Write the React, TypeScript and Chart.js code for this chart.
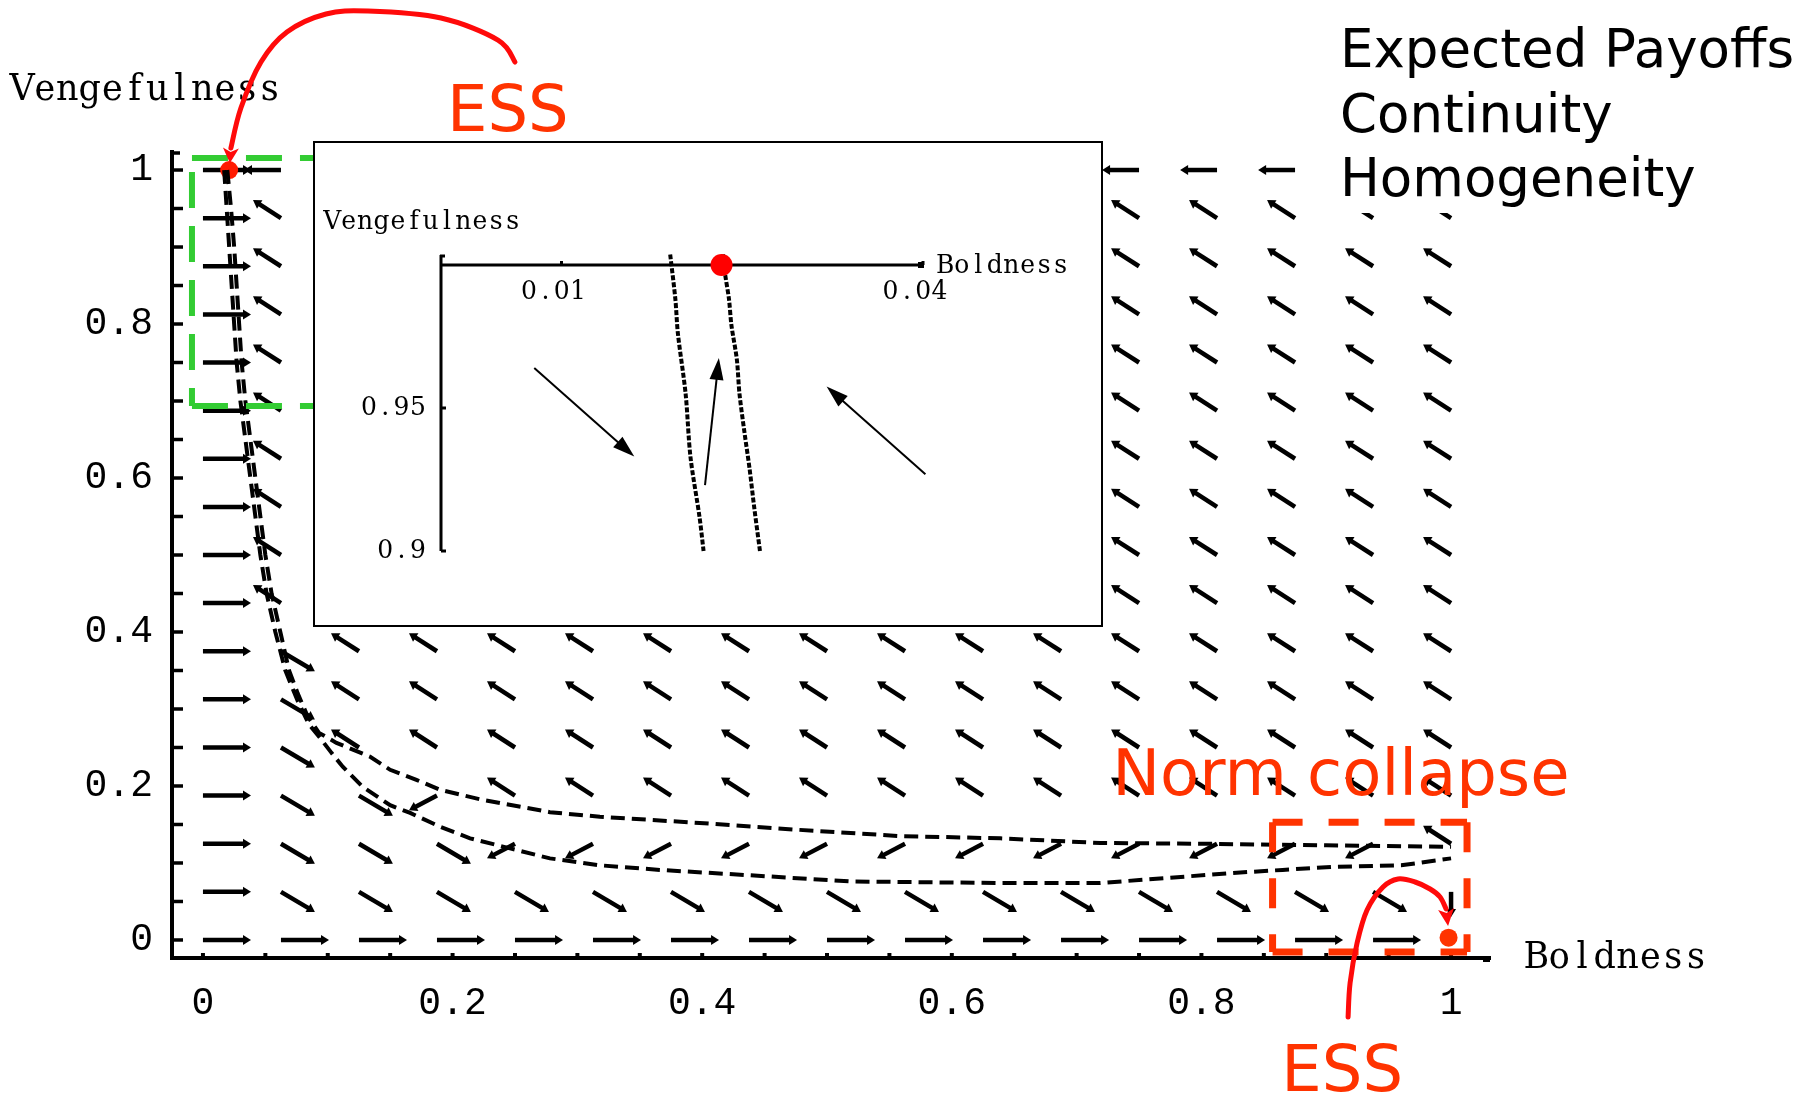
import React, { useEffect, useRef } from 'react';
import { Chart, registerables } from 'chart.js';

Chart.register(...registerables);

// ---------------- main phase portrait data ----------------
const GRID_B = [0, 0.0625, 0.125, 0.1875, 0.25, 0.3125, 0.375, 0.4375, 0.5, 0.5625, 0.625, 0.6875, 0.75, 0.8125, 0.875, 0.9375, 1];
// rows listed from Vengefulness = 1 down to 0
const GRID_V = [1, 0.9375, 0.875, 0.8125, 0.75, 0.6875, 0.625, 0.5625, 0.5, 0.4375, 0.375, 0.3125, 0.25, 0.1875, 0.125, 0.0625, 0];
// direction of the field arrow at each grid point
const FIELD_ROWS = [
  'RLLLLLLLLLLLLLLLL',
  'RAAAAAAAAAAAAAAAA',
  'RAAAAAAAAAAAAAAAA',
  'RAAAAAAAAAAAAAAAA',
  'RAAAAAAAAAAAAAAAA',
  'RAAAAAAAAAAAAAAAA',
  'RAAAAAAAAAAAAAAAA',
  'RAAAAAAAAAAAAAAAA',
  'RAAAAAAAAAAAAAAAA',
  'RAAAAAAAAAAAAAAAA',
  'RBAAAAAAAAAAAAAAA',
  'RBAAAAAAAAAAAAAAA',
  'RBAAAAAAAAAAAAAAA',
  'RBBCAAAAAAAAAAAAA',
  'RBBBCCCCCCCCCCCCA',
  'RBBBBBBBBBBBBBBBD',
  'RRRRRRRRRRRRRRRR.',
];
const DIR_CODES = ['R', 'L', 'A', 'B', 'C', 'D', '.'];
const DIR_U = [0.0385, -0.0296, -0.0224, 0.0272, -0.0224, 0, 0];
const DIR_V = [0, 0, 0.0234, -0.026, -0.019, -0.0325, 0];

const UPPER_B = [0.0195, 0.0225, 0.025, 0.027, 0.029, 0.031, 0.034, 0.038, 0.042, 0.046, 0.05, 0.055, 0.062, 0.069, 0.076, 0.084, 0.093, 0.107, 0.134, 0.15, 0.171, 0.19, 0.224, 0.278, 0.318, 0.398, 0.478, 0.558, 0.639, 0.719, 0.8, 0.9, 1.0];
const UPPER_V = [1.0, 0.95, 0.9, 0.85, 0.8, 0.75, 0.7, 0.65, 0.6, 0.55, 0.5, 0.45, 0.4, 0.35, 0.32, 0.29, 0.269, 0.256, 0.238, 0.221, 0.208, 0.195, 0.182, 0.166, 0.16, 0.152, 0.143, 0.135, 0.132, 0.126, 0.125, 0.123, 0.121];
const LOWER_B = [0.017, 0.019, 0.021, 0.023, 0.025, 0.027, 0.03, 0.034, 0.038, 0.042, 0.046, 0.051, 0.058, 0.066, 0.076, 0.085, 0.095, 0.103, 0.112, 0.128, 0.15, 0.166, 0.19, 0.214, 0.246, 0.278, 0.318, 0.366, 0.439, 0.519, 0.639, 0.719, 0.825, 0.865, 0.905, 0.96, 1.0];
const LOWER_V = [1.0, 0.95, 0.9, 0.85, 0.8, 0.75, 0.7, 0.65, 0.6, 0.55, 0.5, 0.45, 0.4, 0.35, 0.31, 0.28, 0.26, 0.243, 0.225, 0.199, 0.175, 0.165, 0.147, 0.132, 0.119, 0.106, 0.097, 0.091, 0.084, 0.076, 0.074, 0.074, 0.087, 0.091, 0.095, 0.097, 0.106];

const ESS_B = [0.021, 0.998];
const ESS_V = [1.0, 0.003];
const ESS_COLORS = ['#ff1a00', '#ff3300'];

const TICK_VALUES = [0, 0.05, 0.1, 0.15, 0.2, 0.25, 0.3, 0.35, 0.4, 0.45, 0.5, 0.55, 0.6, 0.65, 0.7, 0.75, 0.8, 0.85, 0.9, 0.95, 1];
const MAJOR_TICKS = [0, 0.2, 0.4, 0.6, 0.8, 1];
const MAJOR_LABELS = ['0', '0.2', '0.4', '0.6', '0.8', '1'];
const B_RANGE = [-0.0248, 1.0312];
const V_RANGE = [-0.0234, 1.0234];

// annotations (data coordinates of the main plot)
const GREEN_BOX = { b0: -0.0088, b1: 0.1, v0: 0.6935, v1: 1.0156 };
const NORM_BOX = { b0: 0.857, b1: 1.0128, v0: -0.0156, v1: 0.153 };
const TOP_ARROW_B = [0.25, 0.2364, 0.1907, 0.1322, 0.0986, 0.0673, 0.0465, 0.0304, 0.0224, 0.0216];
const TOP_ARROW_V = [1.1403, 1.1688, 1.1974, 1.2065, 1.2026, 1.1792, 1.1403, 1.0805, 1.0286, 1.0091];
const BOTTOM_ARROW_B = [0.9175, 0.9191, 0.9247, 0.9327, 0.9455, 0.9575, 0.9712, 0.9832, 0.9912, 0.996, 0.9976];
const BOTTOM_ARROW_V = [-0.1, -0.0558, -0.0039, 0.039, 0.0688, 0.0792, 0.0753, 0.0662, 0.0558, 0.0403, 0.0182];
const RED_LABELS = ['ESS', 'Norm collapse', 'ESS'];
const RED_LABEL_B = [0.1955, 0.7285, 0.864];
const RED_LABEL_V = [1.0505, 0.188, -0.1961];
const LEGEND_LINES = ['Expected Payoffs', 'Continuity', 'Homogeneity'];

// ---------------- inset data ----------------
const INSET_LEFT_B = [0.01902, 0.01945, 0.01966, 0.0203, 0.0207, 0.02145, 0.02179];
const INSET_LEFT_V = [1.0037, 0.988, 0.976, 0.955, 0.933, 0.912, 0.9];
const INSET_RIGHT_B = [0.0234, 0.02357, 0.0239, 0.0241, 0.02455, 0.02477, 0.0252, 0.0256, 0.026, 0.02647];
const INSET_RIGHT_V = [1.0037, 0.997, 0.988, 0.979, 0.967, 0.955, 0.941, 0.929, 0.915, 0.9];
const INSET_ESS_B = [0.02328];
const INSET_ESS_V = [1.0];
const INSET_ARROW_FROM_B = [0.00774, 0.02191, 0.0402];
const INSET_ARROW_FROM_V = [0.964, 0.923, 0.9268];
const INSET_ARROW_TO_B = [0.01604, 0.02306, 0.032];
const INSET_ARROW_TO_V = [0.933, 0.9675, 0.9575];
const INSET_B_TICKS = [0.01, 0.04];
const INSET_B_LABELS = ['0.01', '0.04'];
const INSET_V_TICKS = [0.95, 0.9];
const INSET_V_LABELS = ['0.95', '0.9'];

const MONO = '"Liberation Mono", "Courier New", monospace';
const SERIF = '"DejaVu Serif", "Liberation Serif", serif';
const SANS = '"DejaVu Sans", Verdana, sans-serif';

function drawArrow(ctx: CanvasRenderingContext2D, x0: number, y0: number, x1: number, y1: number, lw: number, headLen: number, headHalf: number, color: string) {
  const dx = x1 - x0, dy = y1 - y0;
  const len = Math.hypot(dx, dy);
  if (len < 0.5) return;
  const ux = dx / len, uy = dy / len;
  const hl = Math.min(headLen, len * 0.6);
  const bx = x1 - ux * hl, by = y1 - uy * hl;
  ctx.strokeStyle = color;
  ctx.fillStyle = color;
  ctx.lineWidth = lw;
  ctx.lineCap = 'butt';
  ctx.setLineDash([]);
  ctx.beginPath();
  ctx.moveTo(x0, y0);
  ctx.lineTo(bx + ux * 1, by + uy * 1);
  ctx.stroke();
  ctx.beginPath();
  ctx.moveTo(x1, y1);
  ctx.lineTo(bx - uy * headHalf, by + ux * headHalf);
  ctx.lineTo(bx + uy * headHalf, by - ux * headHalf);
  ctx.closePath();
  ctx.fill();
}

function smoothPath(ctx: CanvasRenderingContext2D, pts: number[][]) {
  ctx.moveTo(pts[0][0], pts[0][1]);
  for (let i = 0; i < pts.length - 1; i++) {
    const p0 = pts[i - 1] || pts[i];
    const p1 = pts[i];
    const p2 = pts[i + 1];
    const p3 = pts[i + 2] || p2;
    ctx.bezierCurveTo(
      p1[0] + (p2[0] - p0[0]) / 6, p1[1] + (p2[1] - p0[1]) / 6,
      p2[0] - (p3[0] - p1[0]) / 6, p2[1] - (p3[1] - p1[1]) / 6,
      p2[0], p2[1]
    );
  }
}

// typewriter-style text: serif glyphs placed in fixed-width cells
function cellText(ctx: CanvasRenderingContext2D, text: string, x: number, y: number, cell: number, size: number, align: 'left' | 'right' | 'center', sy = 1.05) {
  const total = cell * text.length;
  let start = x;
  if (align === 'right') start = x - total;
  if (align === 'center') start = x - total / 2;
  ctx.save();
  ctx.translate(0, y);
  ctx.scale(1, sy);
  ctx.font = `${size}px ${SERIF}`;
  ctx.textAlign = 'center';
  ctx.textBaseline = 'middle';
  ctx.fillStyle = '#000';
  for (let i = 0; i < text.length; i++) {
    ctx.fillText(text[i], start + cell * (i + 0.5), 0);
  }
  ctx.restore();
}

function line(ctx: CanvasRenderingContext2D, x0: number, y0: number, x1: number, y1: number) {
  ctx.beginPath();
  ctx.moveTo(x0, y0);
  ctx.lineTo(x1, y1);
  ctx.stroke();
}

const whiteBg = {
  id: 'whiteBg',
  beforeDraw(chart: any) {
    const { ctx, width, height } = chart;
    ctx.save();
    ctx.fillStyle = '#fff';
    ctx.fillRect(0, 0, width, height);
    ctx.restore();
  },
};

const fieldPlugin = {
  id: 'field',
  beforeDatasetsDraw(chart: any) {
    const ds = chart.data.datasets.find((d: any) => d.label === 'Direction field');
    const xs = chart.scales.x, ys = chart.scales.y;
    const ctx: CanvasRenderingContext2D = chart.ctx;
    ctx.save();
    ds.data.forEach((p: any) => {
      if (p.u === 0 && p.v === 0) return;
      drawArrow(ctx, xs.getPixelForValue(p.x), ys.getPixelForValue(p.y), xs.getPixelForValue(p.x + p.u), ys.getPixelForValue(p.y + p.v), 4.5, 8, 5, '#000');
    });
    ctx.restore();
  },
};

const mainDecor = {
  id: 'mainDecor',
  afterDraw(chart: any) {
    const ctx: CanvasRenderingContext2D = chart.ctx;
    const xs = chart.scales.x, ys = chart.scales.y;
    const X = (b: number) => xs.getPixelForValue(b);
    const Y = (v: number) => ys.getPixelForValue(v);
    const area = chart.chartArea;
    ctx.save();
    // tick marks
    ctx.strokeStyle = '#000';
    ctx.setLineDash([]);
    TICK_VALUES.forEach((t) => {
      ctx.lineWidth = 3.5;
      const py = Y(t);
      line(ctx, area.left, py, area.left + 11, py);
      const px = X(t);
      ctx.lineWidth = 4;
      line(ctx, px, area.bottom, px, area.bottom - 5);
    });
    ctx.lineWidth = 3.5;
    line(ctx, area.left, area.top + 1, area.left + 8, area.top + 1);
    ctx.fillStyle = '#000';
    ctx.fillRect(area.right - 7, area.bottom - 2, 7, 6);

    // axis titles
    cellText(ctx, 'Vengefulness', 11, 90, 22.5, 35, 'left');
    cellText(ctx, 'Boldness', 1525, 958, 22.8, 35, 'left');

    // green zoom box
    ctx.strokeStyle = '#33cc33';
    ctx.lineWidth = 6;
    ctx.setLineDash([36, 18]);
    line(ctx, X(GREEN_BOX.b0), Y(GREEN_BOX.v1), X(GREEN_BOX.b1), Y(GREEN_BOX.v1));
    line(ctx, X(GREEN_BOX.b0), Y(GREEN_BOX.v1) + 14, X(GREEN_BOX.b0), Y(GREEN_BOX.v0));
    line(ctx, X(GREEN_BOX.b0), Y(GREEN_BOX.v0), X(GREEN_BOX.b1), Y(GREEN_BOX.v0));

    // norm collapse box
    ctx.strokeStyle = '#ff3300';
    ctx.lineWidth = 7;
    ctx.setLineDash([30, 26]);
    line(ctx, X(NORM_BOX.b0), Y(NORM_BOX.v1), X(NORM_BOX.b1), Y(NORM_BOX.v1));
    line(ctx, X(NORM_BOX.b1), Y(NORM_BOX.v1), X(NORM_BOX.b1), Y(NORM_BOX.v0));
    line(ctx, X(NORM_BOX.b0), Y(NORM_BOX.v0), X(NORM_BOX.b1), Y(NORM_BOX.v0));
    line(ctx, X(NORM_BOX.b0), Y(NORM_BOX.v1), X(NORM_BOX.b0), Y(NORM_BOX.v0));
    ctx.setLineDash([]);

    // red labels
    RED_LABELS.forEach((t, i) => {
      ctx.font = `64px ${SANS}`;
      ctx.fillStyle = '#ff3300';
      ctx.textAlign = 'left';
      ctx.textBaseline = 'alphabetic';
      ctx.fillText(t, X(RED_LABEL_B[i]), Y(RED_LABEL_V[i]));
    });

    // legend text with white box
    ctx.fillStyle = '#fff';
    ctx.fillRect(1322, 0, 478, 213);
    ctx.fillStyle = '#000';
    ctx.font = `53px ${SANS}`;
    ctx.textAlign = 'left';
    ctx.textBaseline = 'alphabetic';
    LEGEND_LINES.forEach((t, i) => ctx.fillText(t, 1340, 67 + i * 64.5));

    // red curved arrows
    const curveArrow = (bs: number[], vs: number[]) => {
      const pts = bs.map((b, i) => [X(b), Y(vs[i])]);
      const body = pts.slice(0, pts.length - 1);
      ctx.strokeStyle = '#ff0a0a';
      ctx.lineWidth = 5;
      ctx.lineCap = 'round';
      ctx.beginPath();
      smoothPath(ctx, body);
      ctx.stroke();
      const a = pts[pts.length - 2], tip = pts[pts.length - 1];
      const dx = tip[0] - a[0], dy = tip[1] - a[1];
      const l = Math.hypot(dx, dy);
      const ux = dx / l, uy = dy / l;
      ctx.fillStyle = '#ff0a0a';
      ctx.beginPath();
      ctx.moveTo(tip[0], tip[1]);
      ctx.lineTo(a[0] - uy * 8, a[1] + ux * 8);
      ctx.lineTo(a[0] + ux * 4, a[1] + uy * 4);
      ctx.lineTo(a[0] + uy * 8, a[1] - ux * 8);
      ctx.closePath();
      ctx.fill();
    };
    curveArrow(TOP_ARROW_B, TOP_ARROW_V);
    curveArrow(BOTTOM_ARROW_B, BOTTOM_ARROW_V);
    ctx.restore();
  },
};

const insetDecor = {
  id: 'insetDecor',
  beforeDatasetsDraw(chart: any) {
    const ctx: CanvasRenderingContext2D = chart.ctx;
    const xs = chart.scales.x, ys = chart.scales.y;
    const X = (b: number) => xs.getPixelForValue(b);
    const Y = (v: number) => ys.getPixelForValue(v);
    ctx.save();
    ctx.strokeStyle = '#000';
    ctx.fillStyle = '#000';
    ctx.lineWidth = 3;
    ctx.setLineDash([]);
    // axes
    line(ctx, X(0), Y(1.0), X(0.04), Y(1.0));
    line(ctx, X(0), Y(0.9), X(0), Y(1.0) - 10);
    line(ctx, X(0) - 1, Y(1.0) - 9, X(0) + 4, Y(1.0) - 9);
    ctx.fillRect(X(0.04) - 5, Y(1.0) - 3, 6, 6);
    INSET_V_TICKS.forEach((t, i) => {
      line(ctx, X(0), Y(t), X(0) + 5, Y(t));
      cellText(ctx, INSET_V_LABELS[i], X(0) - 15, Y(t), 16.3, 25, 'right');
    });
    INSET_B_TICKS.forEach((t, i) => {
      line(ctx, X(t), Y(1.0), X(t), Y(1.0) - 4);
      cellText(ctx, INSET_B_LABELS[i], X(t) - 8, Y(1.0) + 27, 16.3, 25, 'center');
    });
    cellText(ctx, 'Boldness', X(0.04) + 14, Y(1.0) + 1, 16.5, 25, 'left');
    cellText(ctx, 'Vengefulness', 11, 81, 16.4, 25, 'left');
    // direction arrows
    INSET_ARROW_FROM_B.forEach((b, i) => {
      drawArrow(ctx, X(b), Y(INSET_ARROW_FROM_V[i]), X(INSET_ARROW_TO_B[i]), Y(INSET_ARROW_TO_V[i]), 2, 22, 7, '#000');
    });
    ctx.restore();
  },
  afterDraw(chart: any) {
    const { ctx, width, height } = chart;
    ctx.save();
    ctx.strokeStyle = '#000';
    ctx.lineWidth = 2;
    ctx.strokeRect(1, 1, width - 2, height - 2);
    ctx.restore();
  },
};

function buildMainConfig(): any {
  const fieldPoints: any[] = [];
  FIELD_ROWS.forEach((row, r) => {
    for (let c = 0; c < row.length; c++) {
      const k = DIR_CODES.indexOf(row[c]);
      fieldPoints.push({ x: GRID_B[c], y: GRID_V[r], u: DIR_U[k], v: DIR_V[k] });
    }
  });
  const tickFont = { family: MONO, size: 38 };
  return {
    type: 'scatter',
    data: {
      datasets: [
        {
          label: 'Upper nullcline',
          data: UPPER_B.map((b, i) => ({ x: b, y: UPPER_V[i] })),
          showLine: true, borderColor: '#000', borderWidth: 4, borderDash: [14, 7], pointRadius: 0, tension: 0, fill: false, order: 1,
        },
        {
          label: 'Lower nullcline',
          data: LOWER_B.map((b, i) => ({ x: b, y: LOWER_V[i] })),
          showLine: true, borderColor: '#000', borderWidth: 4, borderDash: [14, 7], pointRadius: 0, tension: 0, fill: false, order: 1,
        },
        {
          label: 'ESS',
          data: ESS_B.map((b, i) => ({ x: b, y: ESS_V[i] })),
          pointRadius: 9, pointBackgroundColor: ESS_COLORS, pointBorderWidth: 0, order: 2,
        },
        {
          label: 'Direction field',
          data: fieldPoints,
          pointRadius: 0, order: 3,
        },
      ],
    },
    options: {
      animation: false,
      responsive: false,
      devicePixelRatio: 1,
      events: [],
      layout: { padding: { left: 0, top: 152, right: 310, bottom: 0 } },
      plugins: { legend: { display: false }, tooltip: { enabled: false } },
      scales: {
        x: {
          type: 'linear', position: 'bottom', min: B_RANGE[0], max: B_RANGE[1],
          grid: { display: false, drawTicks: false, tickLength: 0 },
          border: { display: true, color: '#000', width: 4 },
          ticks: { font: tickFont, color: '#000', padding: 23, autoSkip: false, maxRotation: 0, minRotation: 0, callback: (_v: any, i: number) => MAJOR_LABELS[i] ?? '' },
          afterBuildTicks: (s: any) => { s.ticks = MAJOR_TICKS.map((v) => ({ value: v })); },
          afterFit: (s: any) => { s.height = 135; },
        },
        y: {
          type: 'linear', position: 'left', min: V_RANGE[0], max: V_RANGE[1],
          grid: { display: false, drawTicks: false, tickLength: 0 },
          border: { display: true, color: '#000', width: 4 },
          ticks: { font: tickFont, color: '#000', padding: 19, autoSkip: false, callback: (_v: any, i: number) => MAJOR_LABELS[i] ?? '' },
          afterBuildTicks: (s: any) => { s.ticks = MAJOR_TICKS.map((v) => ({ value: v })); },
          afterFit: (s: any) => { s.width = 172; },
        },
      },
    },
    plugins: [whiteBg, fieldPlugin, mainDecor],
  };
}

function buildInsetConfig(): any {
  return {
    type: 'scatter',
    data: {
      datasets: [
        {
          label: 'Left nullcline',
          data: INSET_LEFT_B.map((b, i) => ({ x: b, y: INSET_LEFT_V[i] })),
          showLine: true, borderColor: '#000', borderWidth: 4, borderDash: [5, 2], pointRadius: 0, tension: 0.3, clip: false, order: 1,
        },
        {
          label: 'Right nullcline',
          data: INSET_RIGHT_B.map((b, i) => ({ x: b, y: INSET_RIGHT_V[i] })),
          showLine: true, borderColor: '#000', borderWidth: 4, borderDash: [5, 2], pointRadius: 0, tension: 0.3, clip: false, order: 1,
        },
        {
          label: 'ESS',
          data: INSET_ESS_B.map((b, i) => ({ x: b, y: INSET_ESS_V[i] })),
          pointRadius: 11, pointBackgroundColor: '#ff0000', pointBorderWidth: 0, clip: false, order: 0,
        },
      ],
    },
    options: {
      animation: false,
      responsive: false,
      devicePixelRatio: 1,
      events: [],
      layout: { padding: { left: 128, top: 124, right: 180, bottom: 76 } },
      plugins: { legend: { display: false }, tooltip: { enabled: false } },
      scales: {
        x: { type: 'linear', display: false, min: 0, max: 0.04 },
        y: { type: 'linear', display: false, min: 0.9, max: 1.0 },
      },
    },
    plugins: [whiteBg, insetDecor],
  };
}

export default function App() {
  const mainRef = useRef<HTMLCanvasElement>(null);
  const insetRef = useRef<HTMLCanvasElement>(null);
  useEffect(() => {
    document.body.style.margin = '0';
    const main = new Chart(mainRef.current as HTMLCanvasElement, buildMainConfig());
    const inset = new Chart(insetRef.current as HTMLCanvasElement, buildInsetConfig());
    return () => {
      main.destroy();
      inset.destroy();
    };
  }, []);
  return (
    <div style={{ position: 'absolute', left: 0, top: 0, width: 1800, height: 1093, background: '#fff', overflow: 'hidden' }}>
      <canvas ref={mainRef} width={1800} height={1093} style={{ position: 'absolute', left: 0, top: 0, width: 1800, height: 1093 }} />
      <canvas ref={insetRef} width={790} height={486} style={{ position: 'absolute', left: 313, top: 141, width: 790, height: 486 }} />
    </div>
  );
}
